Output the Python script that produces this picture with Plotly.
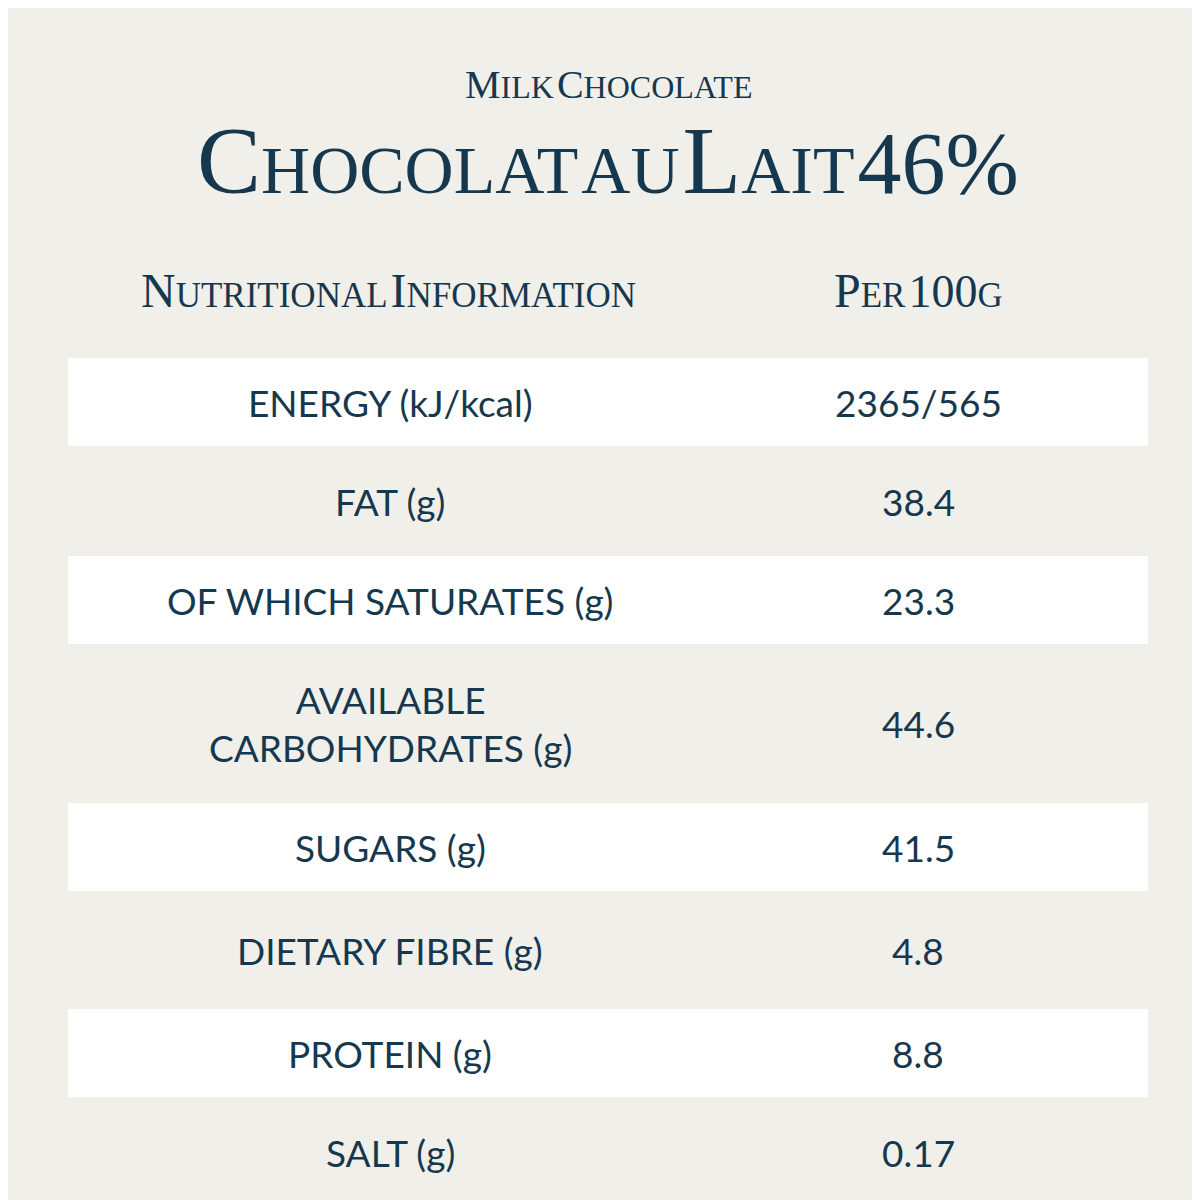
import plotly.graph_objects as go

nutrients = ["ENERGY (kJ/kcal)", "FAT (g)", "OF WHICH SATURATES (g)",
             "AVAILABLE<br>CARBOHYDRATES (g)", "SUGARS (g)", "DIETARY FIBRE (g)",
             "PROTEIN (g)", "SALT (g)"]
per_100g = ["2365/565", "38.4", "23.3", "44.6", "41.5", "4.8", "8.8", "0.17"]

# row boundaries in pixels (layout)
edges = [350, 438, 548, 636, 795, 883, 1001, 1089, 1200]
W = H = 1200
ink = "#16384f"
bg = "#f1efea"

def py(p):
    return 1 - p / H

def sc(word, big, small):
    # fake small caps
    return f"<span style='font-size:{big}px'>{word[0]}</span><span style='font-size:{small}px'>{word[1:].upper()}</span>"

def note(x, y, text, font):
    return dict(x=x, y=y, text=text, showarrow=False, xref="paper", yref="paper",
                xanchor="center", yanchor="middle", align="center", font=font)

fig = go.Figure()
shapes = []
ann = []
body = dict(size=37, color=ink, family="Lato")
for i, (name, val) in enumerate(zip(nutrients, per_100g)):
    top, bot = edges[i], edges[i + 1]
    if i % 2 == 0:
        shapes.append(dict(type="rect", xref="paper", yref="paper",
                           x0=60 / W, x1=1140 / W, y0=py(bot), y1=py(top),
                           fillcolor="white", line_width=0, layer="below"))
    yc = py((top + bot) / 2)
    ann.append(note(382 / W, yc, name, body))
    ann.append(note(910 / W, yc, val, body))

serif = "Liberation Serif"
sp = "\u00a0"
ann.append(note(0.5, py(76), sc("Milk", 40, 32) + sp + sc("Chocolate", 40, 32),
                dict(color=ink, family=serif)))
title = sp.join([sc("Chocolat", 96, 68), "<span style='font-size:68px'>AU</span>",
                 sc("Lait", 96, 68), "<span style='font-size:88px'>46%</span>"])
ann.append(note(0.5, py(152), title, dict(color=ink, family=serif)))
hdr = sc("Nutritional", 48, 35) + sp + sc("Information", 48, 35)
ann.append(note(380 / W, py(282), hdr, dict(color=ink, family=serif)))
ann.append(note(910 / W, py(282),
                sc("Per", 48, 35) + sp + "<span style='font-size:46px'>100</span><span style='font-size:35px'>G</span>",
                dict(color=ink, family=serif)))

fig.update_layout(width=W, height=H, margin=dict(l=0, r=0, t=0, b=0),
                  paper_bgcolor=bg, plot_bgcolor=bg, shapes=shapes, annotations=ann,
                  xaxis=dict(visible=False), yaxis=dict(visible=False), showlegend=False)
fig.write_html("out.html")
